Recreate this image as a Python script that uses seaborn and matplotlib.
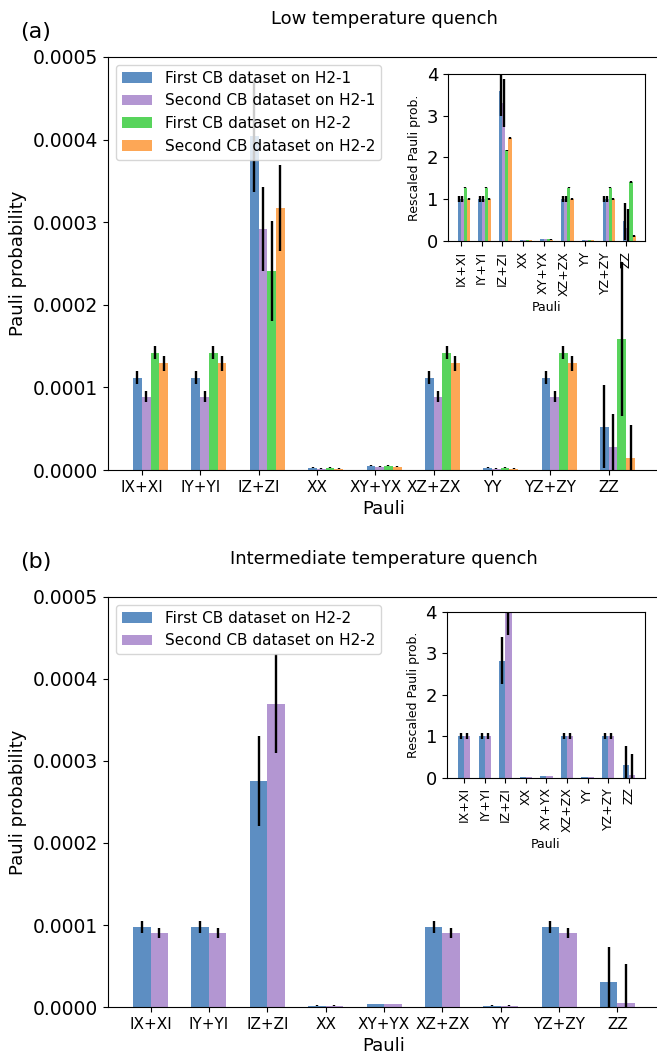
import numpy as np
import pandas as pd
import matplotlib
matplotlib.use("Agg")
import matplotlib.pyplot as plt
import matplotlib.colors as mcolors
import seaborn as sns
from matplotlib.ticker import FormatStrFormatter

# ---------------- data ----------------
paulis = ["IX+XI", "IY+YI", "IZ+ZI", "XX", "XY+YX", "XZ+ZX", "YY", "YZ+ZY", "ZZ"]

a_series = ["First CB dataset on H2-1", "Second CB dataset on H2-1",
            "First CB dataset on H2-2", "Second CB dataset on H2-2"]
b_series = ["First CB dataset on H2-2", "Second CB dataset on H2-2"]

# panel (a) main
a_first_h21 = [1.12e-4, 1.12e-4, 4.04e-4, 0.028e-4, 0.053e-4, 1.12e-4, 0.028e-4, 1.12e-4, 0.526e-4]
a_first_h21_err = [0.077e-4, 0.077e-4, 0.68e-4, 0.004e-4, 0.006e-4, 0.077e-4, 0.004e-4, 0.077e-4, 0.50e-4]
a_second_h21 = [0.89e-4, 0.89e-4, 2.92e-4, 0.016e-4, 0.040e-4, 0.89e-4, 0.016e-4, 0.89e-4, 0.283e-4]
a_second_h21_err = [0.063e-4, 0.063e-4, 0.505e-4, 0.004e-4, 0.006e-4, 0.063e-4, 0.004e-4, 0.063e-4, 0.40e-4]
a_first_h22 = [1.42e-4, 1.42e-4, 2.41e-4, 0.028e-4, 0.053e-4, 1.42e-4, 0.028e-4, 1.42e-4, 1.585e-4]
a_first_h22_err = [0.08e-4, 0.08e-4, 0.61e-4, 0.004e-4, 0.006e-4, 0.08e-4, 0.004e-4, 0.08e-4, 0.935e-4]
a_second_h22 = [1.29e-4, 1.29e-4, 3.17e-4, 0.016e-4, 0.040e-4, 1.29e-4, 0.016e-4, 1.29e-4, 0.15e-4]
a_second_h22_err = [0.089e-4, 0.089e-4, 0.52e-4, 0.004e-4, 0.006e-4, 0.089e-4, 0.004e-4, 0.089e-4, 0.40e-4]

# panel (a) inset (rescaled)
ai_first_h21 = [1.0, 1.0, 3.6, 0.025, 0.047, 1.0, 0.025, 1.0, 0.47]
ai_first_h21_err = [0.07, 0.07, 0.61, 0.004, 0.006, 0.07, 0.004, 0.07, 0.45]
ai_second_h21 = [1.0, 1.0, 3.3, 0.018, 0.045, 1.0, 0.018, 1.0, 0.32]
ai_second_h21_err = [0.07, 0.07, 0.57, 0.004, 0.006, 0.07, 0.004, 0.07, 0.44]
ai_first_h22 = [1.28, 1.28, 2.17, 0.02, 0.047, 1.28, 0.02, 1.28, 1.41]
ai_first_h22_err = [0.02, 0.02, 0.02, 0.004, 0.006, 0.02, 0.004, 0.02, 0.02]
ai_second_h22 = [1.0, 1.0, 2.46, 0.018, 0.035, 1.0, 0.018, 1.0, 0.12]
ai_second_h22_err = [0.02, 0.02, 0.02, 0.004, 0.006, 0.02, 0.004, 0.02, 0.02]

# panel (b) main
b_first_h22 = [0.976e-4, 0.976e-4, 2.76e-4, 0.016e-4, 0.037e-4, 0.976e-4, 0.016e-4, 0.976e-4, 0.305e-4]
b_first_h22_err = [0.071e-4, 0.071e-4, 0.55e-4, 0.003e-4, 0.005e-4, 0.071e-4, 0.003e-4, 0.071e-4, 0.43e-4]
b_second_h22 = [0.90e-4, 0.90e-4, 3.70e-4, 0.016e-4, 0.037e-4, 0.90e-4, 0.016e-4, 0.90e-4, 0.049e-4]
b_second_h22_err = [0.063e-4, 0.063e-4, 0.60e-4, 0.003e-4, 0.005e-4, 0.063e-4, 0.003e-4, 0.063e-4, 0.475e-4]

# panel (b) inset (rescaled)
bi_first_h22 = [1.0, 1.0, 2.82, 0.016, 0.038, 1.0, 0.016, 1.0, 0.31]
bi_first_h22_err = [0.08, 0.08, 0.56, 0.003, 0.005, 0.08, 0.003, 0.08, 0.44]
bi_second_h22 = [1.0, 1.0, 4.1, 0.018, 0.040, 1.0, 0.018, 1.0, 0.055]
bi_second_h22_err = [0.08, 0.08, 0.66, 0.003, 0.005, 0.08, 0.003, 0.08, 0.52]

a_colors = ["#5d8ec2", "#b396d2", "#58d45c", "#fda756"]
b_colors = ["#5d8ec2", "#b396d2"]

# ---------------- helpers ----------------
def draw_bars(ax, values, errs, series, colors, offset, width, legend):
    rows = []
    for s, vals in zip(series, values):
        for i, (p, v) in enumerate(zip(paulis, vals)):
            rows.append({"pos": i + offset, "Pauli": p, "series": s, "value": v})
    df = pd.DataFrame(rows)
    sns.barplot(data=df, x="pos", y="value", hue="series", hue_order=series,
                palette=colors, native_scale=True, width=width, errorbar=None,
                saturation=1, linewidth=0, ax=ax, legend=legend)
    rgb = [np.array(mcolors.to_rgb(c)) for c in colors]
    bar_conts = [c for c in ax.containers if isinstance(c, matplotlib.container.BarContainer)]
    for cont in bar_conts:
        patches = sorted(cont.patches, key=lambda p: p.get_x())
        fc = np.array(patches[0].get_facecolor()[:3])
        k = int(np.argmin([np.sum((fc - c) ** 2) for c in rgb]))
        xs = [p.get_x() + p.get_width() / 2 for p in patches]
        hs = [p.get_height() for p in patches]
        ax.errorbar(xs, hs, yerr=errs[k], fmt="none", ecolor="black",
                    elinewidth=1.7, capsize=0, zorder=3)
    ax.set_xticks(range(len(paulis)))


def style_main(ax, title, series, xlim):
    ax.set_xticklabels(paulis, fontsize=11)
    ax.set_xlim(*xlim)
    ax.set_ylim(0, 0.0005)
    ax.set_yticks([0, 1e-4, 2e-4, 3e-4, 4e-4, 5e-4])
    ax.yaxis.set_major_formatter(FormatStrFormatter("%.4f"))
    ax.tick_params(axis="y", labelsize=13.5)
    ax.set_xlabel("Pauli", fontsize=13)
    ax.set_ylabel("Pauli probability", fontsize=13)
    ax.set_title(title, fontsize=13, pad=24)
    ax.spines["right"].set_visible(False)
    leg = ax.get_legend()
    handles = leg.legend_handles
    labels = [t.get_text() for t in leg.get_texts()]
    leg.remove()
    ax.legend(handles, labels, loc="upper left", fontsize=11)


def style_inset(ax, xlim):
    ax.set_xticklabels(paulis, rotation=90, fontsize=9)
    ax.set_xlim(*xlim)
    ax.set_ylim(0, 4)
    ax.set_yticks([0, 1, 2, 3, 4])
    ax.tick_params(axis="y", labelsize=13)
    ax.set_xlabel("Pauli", fontsize=9)
    ax.set_ylabel("Rescaled Pauli prob.", fontsize=9)


# ---------------- figure ----------------
fig = plt.figure(figsize=(6.57, 10.57), dpi=100)

ax_a = fig.add_axes([0.1644, 0.5553, 0.8402, 0.3908])
draw_bars(ax_a, [a_first_h21, a_second_h21, a_first_h22, a_second_h22],
          [a_first_h21_err, a_second_h21_err, a_first_h22_err, a_second_h22_err],
          a_series, a_colors, 0.15, 0.6, True)
style_main(ax_a, "Low temperature quench", a_series, (-0.58, 8.88))

ax_ai = fig.add_axes([0.6819, 0.772, 0.2998, 0.158])
draw_bars(ax_ai, [ai_first_h21, ai_second_h21, ai_first_h22, ai_second_h22],
          [ai_first_h21_err, ai_second_h21_err, ai_first_h22_err, ai_second_h22_err],
          a_series, a_colors, 0.15, 0.6, False)
style_inset(ax_ai, (-0.62, 8.9))

ax_b = fig.add_axes([0.1644, 0.0473, 0.8402, 0.3879])
draw_bars(ax_b, [b_first_h22, b_second_h22], [b_first_h22_err, b_second_h22_err],
          b_series, b_colors, 0.0, 0.6, True)
style_main(ax_b, "Intermediate temperature quench", b_series, (-0.73, 8.73))

ax_bi = fig.add_axes([0.680, 0.2644, 0.302, 0.157])
draw_bars(ax_bi, [bi_first_h22, bi_second_h22], [bi_first_h22_err, bi_second_h22_err],
          b_series, b_colors, 0.0, 0.6, False)
style_inset(ax_bi, (-0.85, 8.8))

fig.text(0.030, 1 - 38 / 1057, "(a)", fontsize=16, va="baseline")
fig.text(0.030, 1 - 568 / 1057, "(b)", fontsize=16, va="baseline")

fig.savefig("out.png", dpi=100)
